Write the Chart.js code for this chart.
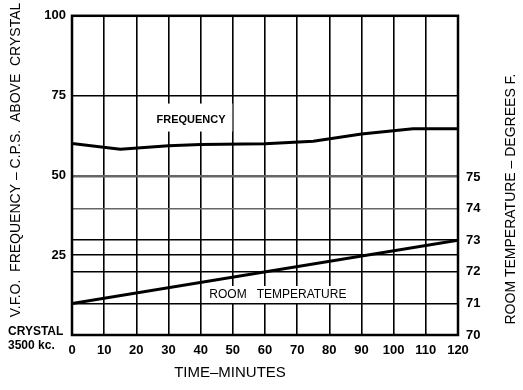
<!DOCTYPE html>
<html>
<head>
<meta charset="utf-8">
<script src="https://cdn.jsdelivr.net/npm/chart.js@4"></script>
<style>
  body { margin: 0; background: #fff; }
  #vfo { display: block; }
</style>
</head>
<body>
<canvas id="vfo" width="523" height="390"></canvas>
<script>
// frequency drift, c.p.s. above crystal
const freqMinutes = [0, 15, 30, 40, 60, 75, 90, 106, 120];
const frequency = [60, 58.2, 59.3, 59.7, 59.9, 60.7, 63, 64.6, 64.6];

// room temperature, degrees F
const tempMinutes = [0, 120];
const temperature = [71, 73];

const freqTicks = [25, 50, 75, 100];
const tempTicks = [70, 71, 72, 73, 74, 75];
const dimLines = { y: [50], y1: [74, 75] };

const FONT = 'Liberation Sans, Arial, sans-serif';

const labelsPlugin = {
  id: 'labels',
  beforeDatasetsDraw(chart) {
    const ctx = chart.ctx;
    const x = chart.scales.x, y = chart.scales.y, y1 = chart.scales.y1;
    ctx.save();
    // white patches behind the in-plot labels
    ctx.fillStyle = '#fff';
    ctx.fillRect(x.getPixelForValue(25), y.getPixelForValue(72.5), 80, 28);
    ctx.fillRect(x.getPixelForValue(41.5), y1.getPixelForValue(71.55), 148, 17);
    ctx.fillStyle = '#000';
    ctx.textAlign = 'center';
    ctx.textBaseline = 'middle';
    ctx.font = 'bold 11px ' + FONT;
    ctx.fillText('FREQUENCY', x.getPixelForValue(37), y.getPixelForValue(67.5));
    ctx.font = '12px ' + FONT;
    ctx.fillText('ROOM   TEMPERATURE', x.getPixelForValue(64), y1.getPixelForValue(71.28));
    ctx.restore();
  },
  afterDraw(chart) {
    const ctx = chart.ctx;
    const a = chart.chartArea;
    ctx.save();
    ctx.strokeStyle = '#000';
    ctx.lineWidth = 2.5;
    ctx.strokeRect(a.left, a.top, a.right - a.left, a.bottom - a.top);

    ctx.fillStyle = '#000';
    ctx.textBaseline = 'middle';
    ctx.textAlign = 'left';
    ctx.font = 'bold 12px ' + FONT;
    ctx.fillText('CRYSTAL', 8, 332);
    ctx.fillText('3500 kc.', 8, 346);

    ctx.textAlign = 'center';
    ctx.font = '15px ' + FONT;
    ctx.fillText('TIME\u2013MINUTES', 230, 373);

    ctx.font = '14px ' + FONT;
    ctx.translate(16, 160);
    ctx.rotate(-Math.PI / 2);
    ctx.fillText('V.F.O.  FREQUENCY \u2013 C.P.S.  ABOVE  CRYSTAL', 0, 0);
    ctx.restore();

    ctx.save();
    ctx.fillStyle = '#000';
    ctx.textAlign = 'center';
    ctx.textBaseline = 'middle';
    ctx.font = '14px ' + FONT;
    ctx.translate(511, 199);
    ctx.rotate(-Math.PI / 2);
    ctx.fillText('ROOM TEMPERATURE \u2013 DEGREES F.', 0, 0);
    ctx.restore();
  }
};

function gridColor(axis) {
  return (c) => {
    const v = c.tick && c.tick.value;
    if (axis === 'y1' && v > 75) return 'rgba(0,0,0,0)';
    if (dimLines[axis] && dimLines[axis].includes(v)) return '#666';
    return '#000';
  };
}

new Chart(document.getElementById('vfo'), {
  type: 'line',
  data: {
    datasets: [{
      label: 'Frequency',
      data: freqMinutes.map((m, i) => ({ x: m, y: frequency[i] })),
      yAxisID: 'y',
      borderColor: '#000',
      borderWidth: 3,
      pointRadius: 0,
      tension: 0
    }, {
      label: 'Room Temperature',
      data: tempMinutes.map((m, i) => ({ x: m, y: temperature[i] })),
      yAxisID: 'y1',
      borderColor: '#000',
      borderWidth: 3,
      pointRadius: 0,
      tension: 0
    }]
  },
  options: {
    responsive: false,
    devicePixelRatio: 1,
    animation: false,
    layout: { padding: { top: 13, left: 0, right: 0, bottom: 0 } },
    plugins: {
      legend: { display: false },
      tooltip: { enabled: false }
    },
    scales: {
      x: {
        type: 'linear',
        min: 0,
        max: 120,
        afterFit: (s) => { s.height = 55; },
        ticks: { stepSize: 10, color: '#000', padding: 8, font: { family: FONT, size: 13, weight: 'bold' } },
        grid: { color: '#000', lineWidth: 1.6, drawTicks: false },
        border: { display: false }
      },
      y: {
        position: 'left',
        min: 0,
        max: 100,
        afterFit: (s) => { s.width = 72; },
        afterBuildTicks: (s) => { s.ticks = freqTicks.map(v => ({ value: v })); },
        ticks: { color: '#000', padding: 6, font: { family: FONT, size: 13, weight: 'bold' } },
        grid: { color: gridColor('y'), lineWidth: 1.6, drawTicks: false },
        border: { display: false }
      },
      y1: {
        position: 'right',
        min: 70,
        max: 80.1,
        afterFit: (s) => { s.width = 65; },
        afterBuildTicks: (s) => { s.ticks = tempTicks.map(v => ({ value: v })); },
        ticks: { color: '#000', padding: 8, font: { family: FONT, size: 13, weight: 'bold' } },
        grid: { color: gridColor('y1'), lineWidth: 1.6, drawTicks: false },
        border: { display: false }
      }
    }
  },
  plugins: [labelsPlugin]
});
</script>
</body>
</html>
